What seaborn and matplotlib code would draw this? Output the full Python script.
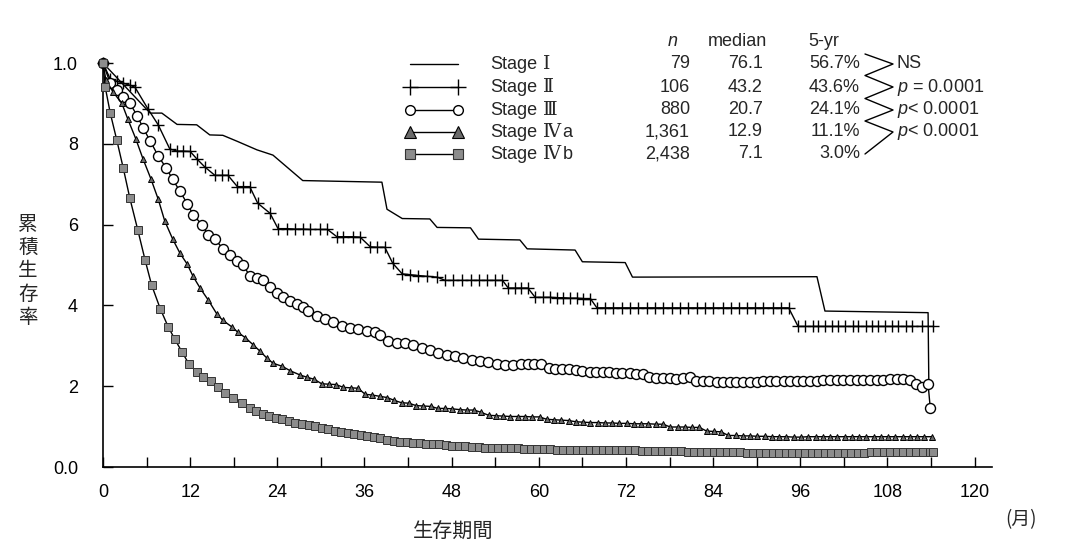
import numpy as np
import matplotlib
matplotlib.use("Agg")
import matplotlib.pyplot as plt
import seaborn as sns
from matplotlib.lines import Line2D

# ---------------- data (months, cumulative survival) ----------------
t_stage1 = [0, 6.5, 8.1, 10.2, 12.9, 14.7, 16.5, 18.5, 21.2, 23.4, 27.5, 38.4, 39.1, 41.2,
            45.0, 46.0, 50.6, 51.7, 57.4, 58.4, 65.0, 66.0, 71.9, 72.9, 98.3, 99.4, 113.6, 113.7]
s_stage1 = [1.0, 0.876, 0.876, 0.848, 0.847, 0.822, 0.821, 0.806, 0.785, 0.772, 0.709, 0.705,
            0.638, 0.615, 0.614, 0.593, 0.592, 0.564, 0.562, 0.540, 0.537, 0.508, 0.506, 0.470,
            0.471, 0.386, 0.382, 0.210]

t_stage2 = [0, 1.0, 1.9, 2.8, 3.7, 4.4, 6.2, 7.6, 9.2, 10.2, 11.0, 12.0, 12.9, 14.0, 15.4, 16.4,
            17.2, 18.5, 19.3, 20.2, 21.3, 23.0, 24.1, 25.3, 26.4, 27.5, 28.5, 29.9, 30.9, 32.2,
            33.1, 34.4, 35.4, 36.8, 37.7, 38.8, 39.9, 41.2, 42.3, 43.4, 44.6, 46.0, 47.1, 48.2,
            49.4, 50.6, 51.7, 52.9, 54.0, 55.0, 55.8, 56.7, 57.6, 58.5, 59.5, 60.6, 61.6, 62.5,
            63.4, 64.3, 65.3, 66.1, 67.1, 68.0, 69.1, 70.2, 71.5, 72.6, 73.7, 74.9, 76.0, 77.1,
            78.4, 79.5, 80.6, 81.8, 82.9, 84.0, 85.3, 86.4, 87.5, 88.7, 89.8, 90.9, 92.2, 93.3,
            94.4, 95.7, 96.7, 97.7, 98.5, 99.4, 100.4, 101.2, 102.2, 103.2, 104.0, 105.0, 105.9,
            106.7, 107.7, 108.7, 109.5, 110.5, 111.4, 112.8, 114.3]
s_stage2 = [1.0, 0.960, 0.955, 0.950, 0.945, 0.940, 0.886, 0.847, 0.787, 0.782, 0.782, 0.781,
            0.763, 0.743, 0.722, 0.722, 0.722, 0.694, 0.694, 0.694, 0.653, 0.628, 0.590, 0.590,
            0.589, 0.589, 0.588, 0.588, 0.588, 0.570, 0.570, 0.570, 0.569, 0.545, 0.544, 0.544,
            0.504, 0.478, 0.476, 0.474, 0.472, 0.470, 0.462, 0.462, 0.462, 0.462, 0.462, 0.462,
            0.462, 0.462, 0.443, 0.443, 0.443, 0.443, 0.420, 0.420, 0.420, 0.419, 0.419, 0.418,
            0.418, 0.417, 0.417, 0.394, 0.394, 0.394, 0.394, 0.394, 0.394, 0.394, 0.394, 0.394,
            0.394, 0.394, 0.394, 0.394, 0.394, 0.394, 0.394, 0.394, 0.394, 0.394, 0.394, 0.394,
            0.394, 0.394, 0.394, 0.348, 0.348, 0.348, 0.348, 0.348, 0.348, 0.348, 0.348, 0.348,
            0.348, 0.348, 0.348, 0.348, 0.348, 0.348, 0.348, 0.348, 0.348, 0.348, 0.348]

t_stage3 = [0, 1.0, 1.9, 2.8, 3.7, 4.7, 5.5, 6.5, 7.6, 8.7, 9.6, 10.6, 11.6, 12.4, 13.6, 14.5,
            15.4, 16.5, 17.5, 18.5, 19.3, 20.2, 21.2, 22.0, 23.0, 24.0, 24.8, 25.8, 26.7, 27.5,
            28.2, 29.5, 30.6, 31.7, 32.9, 34.0, 35.1, 36.4, 37.5, 38.2, 39.3, 40.5, 41.6, 42.7,
            43.9, 45.0, 46.1, 47.4, 48.5, 49.6, 50.8, 51.9, 53.0, 54.3, 55.4, 56.5, 57.6, 58.5,
            59.4, 60.3, 61.4, 62.3, 63.2, 64.2, 65.1, 66.0, 67.0, 67.9, 68.8, 69.7, 70.6, 71.5,
            72.5, 73.4, 74.3, 75.2, 76.2, 77.1, 78.0, 78.9, 79.8, 80.8, 81.7, 82.6, 83.5, 84.5,
            85.4, 86.3, 87.2, 88.1, 89.1, 90.0, 90.9, 91.8, 92.7, 93.7, 94.6, 95.5, 96.4, 97.3,
            98.3, 99.2, 100.1, 101.0, 101.9, 102.9, 103.8, 104.7, 105.6, 106.5, 107.4, 108.4,
            109.3, 110.2, 111.1, 112.0, 112.8, 113.6, 113.9]
s_stage3 = [1.0, 0.950, 0.933, 0.915, 0.900, 0.870, 0.840, 0.807, 0.770, 0.740, 0.712, 0.682,
            0.652, 0.625, 0.600, 0.575, 0.565, 0.540, 0.525, 0.509, 0.499, 0.474, 0.469, 0.463,
            0.446, 0.430, 0.420, 0.412, 0.404, 0.397, 0.386, 0.373, 0.366, 0.358, 0.350, 0.345,
            0.342, 0.336, 0.333, 0.326, 0.313, 0.308, 0.307, 0.302, 0.294, 0.289, 0.281, 0.278,
            0.275, 0.270, 0.264, 0.262, 0.259, 0.256, 0.253, 0.252, 0.254, 0.255, 0.255, 0.254,
            0.245, 0.243, 0.243, 0.242, 0.241, 0.237, 0.236, 0.236, 0.235, 0.234, 0.233, 0.232,
            0.232, 0.231, 0.230, 0.222, 0.221, 0.220, 0.220, 0.219, 0.221, 0.222, 0.213, 0.212,
            0.212, 0.211, 0.211, 0.211, 0.211, 0.210, 0.211, 0.211, 0.212, 0.212, 0.212, 0.213,
            0.213, 0.213, 0.214, 0.214, 0.214, 0.215, 0.215, 0.215, 0.215, 0.215, 0.216, 0.216,
            0.216, 0.216, 0.216, 0.217, 0.217, 0.217, 0.216, 0.205, 0.198, 0.205, 0.146]

t_stage4a = [0, 0.4, 1.4, 2.6, 3.4, 4.5, 5.5, 6.6, 7.6, 8.5, 9.6, 10.6, 11.6, 12.4, 13.4, 14.5,
             15.7, 16.5, 17.8, 18.6, 19.6, 20.7, 21.6, 22.6, 23.4, 24.7, 25.8, 27.1, 28.1, 29.1,
             30.1, 31.1, 32.1, 33.1, 34.1, 35.1, 36.1, 37.1, 38.1, 39.1, 40.1, 41.1, 42.1, 43.1,
             44.1, 45.1, 46.1, 47.1, 48.1, 49.1, 50.1, 51.1, 52.1, 53.1, 54.1, 55.1, 56.1, 57.1,
             58.1, 59.1, 60.1, 61.1, 62.1, 63.1, 64.1, 65.1, 66.1, 67.1, 68.1, 69.1, 70.1, 71.1,
             72.1, 73.1, 74.1, 75.1, 76.1, 77.1, 78.1, 79.1, 80.1, 81.1, 82.1, 83.1, 84.1, 85.1,
             86.1, 87.1, 88.1, 89.1, 90.1, 91.1, 92.1, 93.1, 94.1, 95.1, 96.1, 97.1, 98.1, 99.1,
             100.1, 101.1, 102.1, 103.1, 104.1, 105.1, 106.1, 107.1, 108.1, 109.1, 110.1, 111.1,
             112.1, 113.1, 114.1]
s_stage4a = [1.0, 0.958, 0.928, 0.900, 0.862, 0.813, 0.763, 0.713, 0.663, 0.609, 0.564, 0.529,
             0.502, 0.472, 0.442, 0.413, 0.378, 0.363, 0.346, 0.333, 0.320, 0.302, 0.287, 0.269,
             0.257, 0.249, 0.238, 0.228, 0.222, 0.217, 0.206, 0.205, 0.204, 0.197, 0.196, 0.195,
             0.180, 0.178, 0.175, 0.172, 0.165, 0.159, 0.158, 0.152, 0.151, 0.150, 0.145, 0.145,
             0.144, 0.142, 0.141, 0.141, 0.135, 0.128, 0.127, 0.126, 0.125, 0.125, 0.125, 0.124,
             0.124, 0.118, 0.117, 0.116, 0.115, 0.112, 0.111, 0.110, 0.110, 0.109, 0.109, 0.108,
             0.108, 0.107, 0.107, 0.107, 0.106, 0.106, 0.099, 0.099, 0.099, 0.098, 0.098, 0.089,
             0.088, 0.087, 0.078, 0.078, 0.077, 0.077, 0.076, 0.076, 0.075, 0.075, 0.075, 0.074,
             0.074, 0.075, 0.075, 0.075, 0.075, 0.075, 0.075, 0.075, 0.075, 0.075, 0.075, 0.075,
             0.075, 0.075, 0.075, 0.075, 0.075, 0.075, 0.075]

t_stage4b = [0, 0.3, 1.0, 1.9, 2.8, 3.7, 4.8, 5.8, 6.7, 7.9, 9.0, 9.9, 10.9, 11.8, 12.9, 13.8,
             14.9, 15.8, 16.8, 17.9, 19.1, 20.2, 21.1, 22.0, 22.9, 23.8, 24.7, 25.6, 26.5, 27.4,
             28.3, 29.2, 30.1, 31.0, 31.9, 32.8, 33.7, 34.6, 35.5, 36.4, 37.3, 38.2, 39.1, 40.0,
             40.9, 41.8, 42.7, 43.6, 44.5, 45.4, 46.3, 47.2, 48.1, 49.0, 49.9, 50.8, 51.7, 52.6,
             53.5, 54.4, 55.3, 56.2, 57.1, 58.0, 58.9, 59.8, 60.7, 61.6, 62.5, 63.4, 64.3, 65.2,
             66.1, 67.0, 67.9, 68.8, 69.7, 70.6, 71.5, 72.4, 73.3, 74.2, 75.1, 76.0, 76.9, 77.8,
             78.7, 79.6, 80.5, 81.4, 82.3, 83.2, 84.1, 85.0, 85.9, 86.8, 87.7, 88.6, 89.5, 90.4,
             91.3, 92.2, 93.1, 94.0, 94.9, 95.8, 96.7, 97.6, 98.5, 99.4, 100.3, 101.2, 102.1,
             103.0, 103.9, 104.8, 105.7, 106.6, 107.5, 108.4, 109.3, 110.2, 111.1, 112.0, 112.9,
             113.8, 114.3]
s_stage4b = [1.0, 0.941, 0.876, 0.809, 0.739, 0.665, 0.586, 0.512, 0.450, 0.391, 0.346, 0.316,
             0.284, 0.256, 0.236, 0.224, 0.214, 0.199, 0.184, 0.171, 0.159, 0.146, 0.138, 0.130,
             0.126, 0.122, 0.118, 0.114, 0.110, 0.107, 0.104, 0.101, 0.097, 0.094, 0.090, 0.087,
             0.084, 0.081, 0.079, 0.076, 0.074, 0.071, 0.068, 0.065, 0.062, 0.061, 0.060, 0.059,
             0.058, 0.057, 0.056, 0.055, 0.053, 0.052, 0.051, 0.050, 0.049, 0.048, 0.047, 0.047,
             0.046, 0.046, 0.046, 0.045, 0.045, 0.044, 0.044, 0.044, 0.043, 0.043, 0.043, 0.043,
             0.042, 0.042, 0.042, 0.042, 0.041, 0.041, 0.041, 0.041, 0.041, 0.040, 0.040, 0.040,
             0.040, 0.039, 0.039, 0.039, 0.038, 0.038, 0.038, 0.037, 0.037, 0.037, 0.036, 0.036,
             0.036, 0.035, 0.035, 0.035, 0.035, 0.034, 0.034, 0.034, 0.034, 0.034, 0.034, 0.034,
             0.034, 0.035, 0.035, 0.035, 0.035, 0.035, 0.035, 0.035, 0.036, 0.036, 0.036, 0.036,
             0.036, 0.036, 0.036, 0.036, 0.036, 0.036, 0.036]

stage_word = "Stage"
stage_numerals = ["Ⅰ", "Ⅱ", "Ⅲ", "Ⅳ", "Ⅳ"]
stage_suffix = ["", "", "", "a", "b"]
n_vals = ["79", "106", "880", "1,361", "2,438"]
medians = ["76.1", "43.2", "20.7", "12.9", "7.1"]
five_yr = ["56.7%", "43.6%", "24.1%", "11.1%", "3.0%"]
p_vals = ["NS", "$p$ = 0.0001", "$p$< 0.0001", "$p$< 0.0001"]

x_ticks = [0, 6, 12, 18, 24, 30, 36, 42, 48, 54, 60, 66, 72, 78, 84, 90, 96, 102, 108, 114, 120]
y_ticks = [0.0, 0.2, 0.4, 0.6, 0.8, 1.0]
y_ticklabels = ["0.0", "2", "4", "6", "8", "1.0"]

# ---------------- style ----------------
sns.set_theme(style="white")
plt.rcParams["font.family"] = ["Liberation Sans", "Noto Sans CJK JP"]
plt.rcParams["mathtext.fontset"] = "custom"
plt.rcParams["mathtext.it"] = "Liberation Sans:italic"
plt.rcParams["mathtext.rm"] = "Liberation Sans"

W, H = 1065, 543
fig = plt.figure(figsize=(W / 100, H / 100), dpi=100)
ax = fig.add_axes([103 / W, 1 - 467 / H, (992 - 103) / W, (467 - 63) / H])

series = [
    (t_stage1, s_stage1, dict(marker=None)),
    (t_stage2, s_stage2, dict(marker="+", markersize=8.5, markeredgewidth=1.0,
                              markeredgecolor="black")),
    (t_stage3, s_stage3, dict(marker="o", markersize=7.2, markerfacecolor="white",
                              markeredgewidth=1.0, markeredgecolor="black")),
    (t_stage4a, s_stage4a, dict(marker="^", markersize=5, markerfacecolor="#6a6a6a",
                                markeredgewidth=0.7, markeredgecolor="black")),
    (t_stage4b, s_stage4b, dict(marker="s", markersize=5.5, markerfacecolor="#8c8c8c",
                                markeredgewidth=0.7, markeredgecolor="#333333")),
]
for z, (t, s, mk) in enumerate(series):
    sns.lineplot(x=t, y=s, ax=ax, sort=False, estimator=None, color="black",
                 linewidth=1.0, clip_on=False, zorder=3 + z, **mk)

ax.set_xlim(0, 122.4)
ax.set_ylim(0, 1.0)
ax.set_xticks(x_ticks)
ax.set_xticklabels([str(v) if v % 12 == 0 else "" for v in x_ticks])
ax.set_yticks(y_ticks)
ax.set_yticklabels(y_ticklabels)
ax.tick_params(axis="both", direction="in", length=7, width=1.0, colors="black",
               labelsize=13, bottom=True, left=True)
ax.tick_params(axis="x", pad=12)
ax.tick_params(axis="y", pad=18)
sns.despine(ax=ax)
for sp in ("left", "bottom"):
    ax.spines[sp].set_color("black")
    ax.spines[sp].set_linewidth(1.2)
ax.set_xlabel("")
ax.set_ylabel("")


def fx(px):
    return px / W


def fy(py):
    return 1 - py / H


# axis titles
fig.text(fx(28), fy(271), "\n".join("累積生存率"), ha="center", va="center",
         fontsize=14, linespacing=1.15, family="Noto Sans CJK JP")
fig.text(fx(453), fy(532), "生存期間", ha="center", va="center", fontsize=14.5,
         family="Noto Sans CJK JP")
fig.text(fx(1021), fy(520), "(月)", ha="center", va="center", fontsize=13.5,
         family="Noto Sans CJK JP")

# legend table
rows = [64, 87, 110, 132, 154]
fs = 13
fig.text(fx(673), fy(41), "n", style="italic", ha="center", va="center", fontsize=fs)
fig.text(fx(737), fy(41), "median", ha="center", va="center", fontsize=fs)
fig.text(fx(824), fy(41), "5-yr", ha="center", va="center", fontsize=fs)

legend_marks = [
    dict(marker=None),
    dict(marker="+", markersize=12, markeredgewidth=1.0, markeredgecolor="black"),
    dict(marker="o", markersize=7, markerfacecolor="white", markeredgewidth=1.0,
         markeredgecolor="black"),
    dict(marker="^", markersize=9, markerfacecolor="#6a6a6a", markeredgewidth=0.8,
         markeredgecolor="black"),
    dict(marker="s", markersize=7, markerfacecolor="#8c8c8c", markeredgewidth=0.8,
         markeredgecolor="#333333"),
]
for i, y in enumerate(rows):
    fig.add_artist(Line2D([fx(410), fx(458)], [fy(y), fy(y)], transform=fig.transFigure,
                          color="black", linewidth=1.0, **legend_marks[i]))
    fig.text(fx(490), fy(y + 5), stage_word, ha="left", va="baseline", fontsize=fs)
    tn = fig.text(fx(543), fy(y + 5), stage_numerals[i], ha="left", va="baseline",
                  fontsize=fs + 0.5, family=["DejaVu Serif", "Noto Sans CJK JP"])
    if stage_suffix[i]:
        ax.annotate(stage_suffix[i], xy=(1.0, 0.0), xycoords=tn, xytext=(1, 0),
                    textcoords="offset points", ha="left", va="bottom", fontsize=fs,
                    annotation_clip=False)
    fig.text(fx(690), fy(y), n_vals[i], ha="right", va="center", fontsize=fs)
    fig.text(fx(763), fy(y), medians[i], ha="right", va="center", fontsize=fs)
    fig.text(fx(860), fy(y), five_yr[i], ha="right", va="center", fontsize=fs)

zx_l, zx_r = 865, 893
zig_x = [zx_l, zx_r, zx_l, zx_r, zx_l, zx_r, zx_l, zx_r, zx_l]
zig_y = [rows[0] - 10, rows[0], (rows[0] + rows[1]) / 2, rows[1], (rows[1] + rows[2]) / 2,
         rows[2], (rows[2] + rows[3]) / 2, rows[3], rows[4]]
fig.add_artist(Line2D([fx(v) for v in zig_x], [fy(v) for v in zig_y],
                      transform=fig.transFigure, color="black", linewidth=1.0))
for i, p in enumerate(p_vals):
    fig.text(fx(897), fy(rows[i]), p, ha="left", va="center", fontsize=fs)

fig.savefig("out.png", dpi=100)
